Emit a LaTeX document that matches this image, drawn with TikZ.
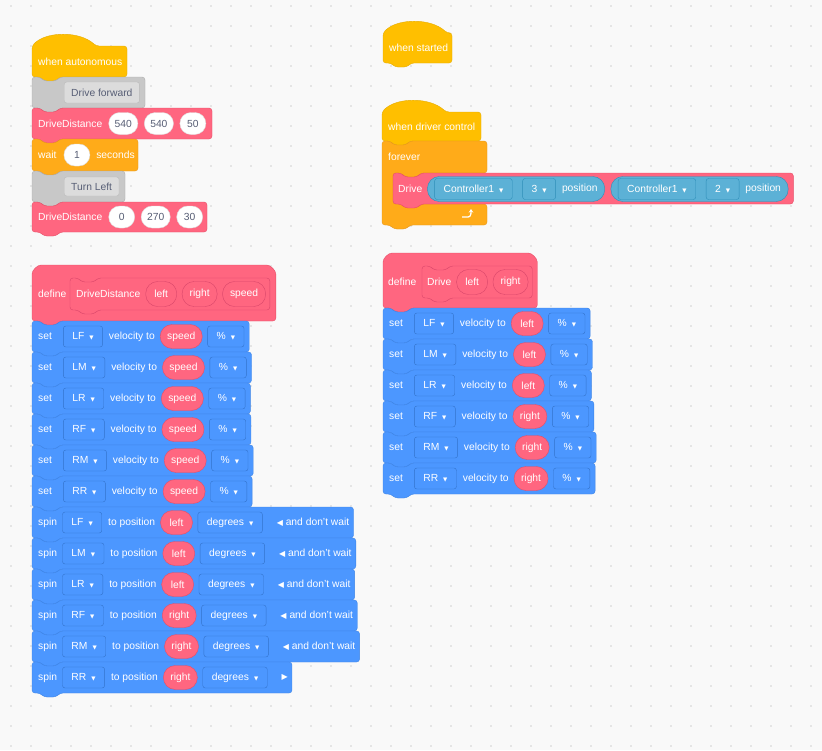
\documentclass[tikz,border=0pt]{standalone}
\usepackage{fontspec}
\setmainfont{Liberation Sans}
\newfontfamily\dejavu{DejaVu Sans}
\usetikzlibrary{shapes.misc,calc,fit,arrows.meta}
\pgfdeclarelayer{bg}
\pgfdeclarelayer{mid}
\pgfsetlayers{bg,mid,main}
\definecolor{canvas}{HTML}{F9F9F9}
\definecolor{dotc}{HTML}{D2D2D2}
\definecolor{hatY}{HTML}{FFBF00}
\definecolor{hatYd}{HTML}{E6AC00}
\definecolor{ctlO}{HTML}{FFAB19}
\definecolor{ctlOd}{HTML}{E6961A}
\definecolor{pk}{HTML}{FF6680}
\definecolor{pkd}{HTML}{E64D66}
\definecolor{pkdd}{HTML}{D9466A}
\definecolor{bl}{HTML}{4C97FF}
\definecolor{bld}{HTML}{3D84E6}
\definecolor{bldd}{HTML}{3373CC}
\definecolor{cy}{HTML}{5CB1D6}
\definecolor{cyd}{HTML}{2E8EB8}
\definecolor{gr}{HTML}{C8C8C8}
\definecolor{grd}{HTML}{AAAAAA}
\definecolor{gri}{HTML}{DCDCDC}
\definecolor{grt}{HTML}{575E75}
\newcommand\tri{\hspace{5pt}{\dejavu\fontsize{5.5}{5.5}\selectfont ▼}}
\newcommand\lft{{\dejavu\fontsize{8}{8}\selectfont ◀}}
\newcommand\rgt{{\dejavu\fontsize{8}{8}\selectfont ▶}}
\newcommand\bsh[5]{\path[#5] (#1,{-(#2)}) -- ({#1+8},{-(#2)}) -- ({#1+12},{-(#2)-4}) -- ({#1+24},{-(#2)-4}) -- ({#1+28},{-(#2)}) -- ({#3},{-(#2)}) -- ({#3},{-(#4)}) -- ({#1+28},{-(#4)}) -- ({#1+24},{-(#4)-4}) -- ({#1+12},{-(#4)-4}) -- ({#1+8},{-(#4)}) -- (#1,{-(#4)}) -- cycle;}
\newcommand\hsh[5]{\path[#5] (#1,{-(#2)}) .. controls ({#1+14},{-(#2)+15}) and ({#1+48},{-(#2)+15}) .. ({#1+64},{-(#2)}) -- ({#3},{-(#2)}) -- ({#3},{-(#4)}) -- ({#1+28},{-(#4)}) -- ({#1+24},{-(#4)-4}) -- ({#1+12},{-(#4)-4}) -- ({#1+8},{-(#4)}) -- (#1,{-(#4)}) -- cycle;}
\newcommand\dsh[5]{\path[#5] (#1,{-(#4)}) -- (#1,{-(#2)-12}) arc[start angle=180,end angle=90,radius=12] -- ({#3-12},{-(#2)}) arc[start angle=90,end angle=0,radius=12] -- ({#3},{-(#4)}) -- ({#1+28},{-(#4)}) -- ({#1+24},{-(#4)-4}) -- ({#1+12},{-(#4)-4}) -- ({#1+8},{-(#4)}) -- cycle;}
\tikzset{
 txt/.style={text=white,font=\fontsize{10.3}{12}\selectfont,inner sep=0pt,anchor=west},
 dd/.style={txt,draw=bldd,fill=bl,rounded corners=2.5,minimum height=21,inner xsep=9pt},
 var/.style={txt,rounded corners=12,fill=pk,draw=pkd,minimum height=24,minimum width=32,inner xsep=7pt},
 arg/.style={txt,rounded corners=12,fill=pk,draw=pkdd,minimum height=25,minimum width=31,inner xsep=7.5pt},
 num/.style={txt,rounded corners=11,fill=white,draw=gri,text=grt,minimum height=22,minimum width=26,inner xsep=6pt},
 cdd/.style={txt,draw=cyd,fill=cy,rounded corners=2.5,minimum height=21,inner xsep=9pt},
 rep/.style={fill=cy,draw=cyd,rounded corners=12,inner xsep=7pt,inner ysep=0pt,minimum height=25},
 bblue/.style={fill=bl,draw=bld,rounded corners=3},
 bpink/.style={fill=pk,draw=pkd,rounded corners=3},
 bhat/.style={fill=hatY,draw=hatYd,rounded corners=3},
 bctl/.style={fill=ctlO,draw=ctlOd,rounded corners=3},
 bgray/.style={fill=gr,draw=grd,rounded corners=3},
}
\newcommand\setrow[5]{%
 \node[txt] (#1a) at ({#2+6},{-(#3)-15.5}) {set};
 \node[dd] (#1b) at ([xshift=11pt]#1a.east) {#4\tri};
 \node[txt] (#1c) at ([xshift=6pt]#1b.east) {velocity to};
 \node[var] (#1d) at ([xshift=5pt]#1c.east) {#5};
 \node[dd] (#1e) at ([xshift=5pt]#1d.east) {\%\tri};
 \begin{pgfonlayer}{bg}\path let \p1=(#1e.east) in \pgfextra{\xdef\xe{\x1}};\bsh{#2}{#3}{\xe+5pt}{#3+31}{bblue}\end{pgfonlayer}}
\newcommand\spinrow[5]{%
 \node[txt] (#1a) at (38,{-(#2)-15.5}) {spin};
 \node[dd] (#1b) at ([xshift=5pt]#1a.east) {#3\tri};
 \node[txt] (#1c) at ([xshift=6pt]#1b.east) {to position};
 \node[var] (#1d) at ([xshift=5pt]#1c.east) {#4};
 \node[dd] (#1e) at ([xshift=5pt]#1d.east) {degrees\tri};
 \node[txt] (#1f) at ([xshift=14pt]#1e.east) {#5};
 \begin{pgfonlayer}{bg}\path let \p1=(#1f.east) in \pgfextra{\xdef\xe{\x1}};\bsh{32}{#2}{\xe+4pt}{#2+31}{bblue}\end{pgfonlayer}}
\begin{document}
\begin{tikzpicture}[x=1pt,y=1pt]
\useasboundingbox (0,0) rectangle (822,-750);
\begin{pgfonlayer}{bg}
\fill[canvas] (0,0) rectangle (822,-750);
\foreach \i in {11,31,...,811}{\foreach \j in {6,26,...,746}{\fill[dotc] (\i,-\j) circle[radius=0.8];}}
\end{pgfonlayer}

% ===== left top stack =====
\node[txt] (wa) at (38,-62) {when autonomous};
\begin{pgfonlayer}{bg}\hsh{32}{46}{127}{77}{bhat}\end{pgfonlayer}
\node[txt,draw=grd!80,fill=gri,text=grt,rounded corners=2.5,minimum height=21,inner xsep=7pt] (c1) at (64,-92.5) {Drive forward};
\begin{pgfonlayer}{bg}\bsh{32}{77}{145}{108}{bgray}\end{pgfonlayer}
\node[txt] (d1) at (38,-123.5) {DriveDistance};
\node[num] (d1a) at ([xshift=6pt]d1.east) {540};
\node[num] (d1b) at ([xshift=6pt]d1a.east) {540};
\node[num] (d1c) at ([xshift=6pt]d1b.east) {50};
\begin{pgfonlayer}{bg}\bsh{32}{108}{212}{139}{bpink}\end{pgfonlayer}
\node[txt] (w1) at (38,-155) {wait};
\node[num] (w1a) at ([xshift=7pt]w1.east) {1};
\node[txt] (w1b) at ([xshift=6pt]w1a.east) {seconds};
\begin{pgfonlayer}{bg}\bsh{32}{139}{138}{171}{bctl}\end{pgfonlayer}
\node[txt,draw=grd!80,fill=gri,text=grt,rounded corners=2.5,minimum height=19,inner xsep=7pt] (c2) at (64,-186.5) {Turn Left};
\begin{pgfonlayer}{bg}\bsh{32}{171}{125}{202}{bgray}\end{pgfonlayer}
\node[txt] (d2) at (38,-217) {DriveDistance};
\node[num] (d2a) at ([xshift=6pt]d2.east) {0};
\node[num] (d2b) at ([xshift=6pt]d2a.east) {270};
\node[num] (d2c) at ([xshift=6pt]d2b.east) {30};
\begin{pgfonlayer}{bg}\bsh{32}{202}{207}{232}{bpink}\end{pgfonlayer}

% ===== define DriveDistance =====
\node[txt] (df) at (38,-294) {define};
\node[txt] (dfn) at (76,-294) {DriveDistance};
\node[arg] (dfa) at ([xshift=5pt]dfn.east) {left};
\node[arg] (dfb) at ([xshift=5pt]dfa.east) {right};
\node[arg] (dfc) at ([xshift=5pt]dfb.east) {speed};
\begin{pgfonlayer}{bg}
\path let \p1=(dfc.east) in \pgfextra{\xdef\xe{\x1}};
\dsh{32}{265}{\xe+10pt}{321}{bpink}
\bsh{70}{278}{\xe+4pt}{310}{fill=pk,draw=pkdd,rounded corners=3}
\end{pgfonlayer}
\setrow{s1}{32}{321}{LF}{speed}
\setrow{s2}{32}{352}{LM}{speed}
\setrow{s3}{32}{383}{LR}{speed}
\setrow{s4}{32}{414}{RF}{speed}
\setrow{s5}{32}{445}{RM}{speed}
\setrow{s6}{32}{476}{RR}{speed}
\spinrow{p1}{507}{LF}{left}{\lft{} and don't wait}
\spinrow{p2}{538}{LM}{left}{\lft{} and don't wait}
\spinrow{p3}{569}{LR}{left}{\lft{} and don't wait}
\spinrow{p4}{600}{RF}{right}{\lft{} and don't wait}
\spinrow{p5}{631}{RM}{right}{\lft{} and don't wait}
\spinrow{p6}{662}{RR}{right}{\rgt}

% ===== right: when started =====
\node[txt] (ws) at (389,-48) {when started};
\begin{pgfonlayer}{bg}\hsh{383}{33}{452}{63}{bhat}\end{pgfonlayer}

% ===== when driver control =====
\node[txt] (wd) at (388,-127) {when driver control};
\begin{pgfonlayer}{bg}\hsh{382}{112}{481}{141}{bhat}\end{pgfonlayer}
\node[txt] (fv) at (388,-157) {forever};
\begin{pgfonlayer}{bg}
\path[bctl] (382,-141) -- (390,-141) -- (394,-145) -- (406,-145) -- (410,-141) -- (487,-141) -- (487,-173) -- (421,-173) -- (417,-177) -- (405,-177) -- (401,-173) -- (393,-173) -- (393,-204) -- (487,-204) -- (487,-225) -- (410,-225) -- (406,-229) -- (394,-229) -- (390,-225) -- (382,-225) -- cycle;
\end{pgfonlayer}
\draw[white,line width=1.3pt,-{Stealth[length=3.5pt,width=4.5pt]}] (462,-217) -- (468,-217) to[out=0,in=-90] (471,-209);
\node[txt] (dr) at (398,-189) {Drive};
\node[cdd] (r1a) at ([xshift=12pt]dr.east) {Controller1\tri};
\node[cdd] (r1b) at ([xshift=10pt]r1a.east) {3\tri};
\node[txt] (r1c) at ([xshift=6pt]r1b.east) {position};
\begin{pgfonlayer}{mid}\node[rep,fit=(r1a)(r1c)] (r1) {};\end{pgfonlayer}
\node[cdd] (r2a) at ([xshift=13pt]r1.east) {Controller1\tri};
\node[cdd] (r2b) at ([xshift=10pt]r2a.east) {2\tri};
\node[txt] (r2c) at ([xshift=6pt]r2b.east) {position};
\begin{pgfonlayer}{mid}\node[rep,fit=(r2a)(r2c)] (r2) {};\end{pgfonlayer}
\begin{pgfonlayer}{bg}
\path let \p1=(r2.east) in \pgfextra{\xdef\xe{\x1}};
\bsh{393}{173}{\xe+5pt}{204}{bpink}
\end{pgfonlayer}

% ===== define Drive =====
\node[txt] (dg) at (388,-282) {define};
\node[txt] (dgn) at (427,-282) {Drive};
\node[arg] (dga) at ([xshift=5pt]dgn.east) {left};
\node[arg] (dgb) at ([xshift=5pt]dga.east) {right};
\begin{pgfonlayer}{bg}
\path let \p1=(dgb.east) in \pgfextra{\xdef\xe{\x1}};
\dsh{383}{253}{\xe+9pt}{308}{bpink}
\bsh{422}{266}{\xe+4pt}{298}{fill=pk,draw=pkdd,rounded corners=3}
\end{pgfonlayer}
\setrow{t1}{383}{308}{LF}{left}
\setrow{t2}{383}{339}{LM}{left}
\setrow{t3}{383}{370}{LR}{left}
\setrow{t4}{383}{401}{RF}{right}
\setrow{t5}{383}{432}{RM}{right}
\setrow{t6}{383}{463}{RR}{right}
\end{tikzpicture}
\end{document}
